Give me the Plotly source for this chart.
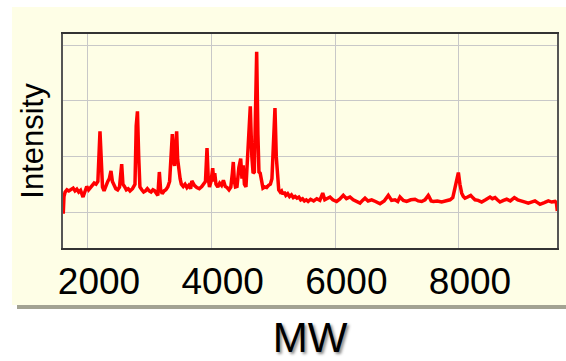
import plotly.graph_objects as go

# Molecular weight (Da) sampled along the spectrum
mw = [1600, 1612, 1630, 1660, 1690, 1720, 1760, 1790, 1820, 1850, 1880, 1920, 1950, 1980,
      2010, 2040, 2070, 2100, 2130, 2160, 2194, 2215, 2235, 2260, 2290, 2320, 2345, 2372,
      2395, 2420, 2450, 2480, 2510, 2545, 2565, 2590, 2620, 2650, 2680, 2720, 2760, 2780,
      2800, 2820, 2840, 2870, 2900, 2930, 2960, 2990, 3020, 3050, 3080, 3110, 3130, 3154,
      3175, 3200, 3230, 3260, 3290, 3320, 3350, 3364, 3385, 3400, 3420, 3434, 3450, 3470,
      3490, 3510, 3540, 3570, 3600, 3630, 3660, 3680, 3720, 3760, 3800, 3840, 3870, 3900,
      3925, 3945, 3965, 3990, 4017, 4035, 4050, 4070, 4100, 4130, 4160, 4190, 4220, 4250,
      4280, 4310, 4335, 4350, 4368, 4385, 4410, 4440, 4470, 4490, 4510, 4530, 4555, 4590,
      4625, 4650, 4670, 4690, 4705, 4728, 4748, 4765, 4785, 4810, 4830, 4860, 4890, 4920,
      4950, 4975, 5000, 5024, 5045, 5065, 5085, 5110, 5130, 5150, 5175, 5200, 5230, 5260,
      5290, 5320, 5350, 5380, 5410, 5440, 5470, 5500, 5530, 5560, 5600, 5650, 5700, 5750,
      5796, 5830, 5870, 5914, 5960, 6021, 6070, 6129, 6180, 6237, 6290, 6340, 6399, 6440,
      6480, 6530, 6588, 6650, 6723, 6790, 6857, 6910, 6965, 7010, 7046, 7100, 7154, 7220,
      7289, 7340, 7397, 7450, 7504, 7515, 7550, 7585, 7650, 7720, 7790, 7855, 7900, 7925,
      7960, 7990, 8015, 8044, 8070, 8097, 8140, 8189, 8230, 8259, 8310, 8367, 8430, 8502,
      8540, 8583, 8620, 8663, 8720, 8771, 8830, 8895, 8950, 9014, 9070, 9121, 9180, 9229,
      9270, 9310, 9380, 9445, 9500, 9553, 9575, 9590]

intensity = [-0.03, 0.28, 0.36, 0.40, 0.38, 0.41, 0.43, 0.38, 0.41, 0.36, 0.39, 0.27, 0.38, 0.46,
             0.40, 0.44, 0.48, 0.52, 0.50, 0.55, 1.45, 0.90, 0.45, 0.38, 0.48, 0.55, 0.60, 0.74,
             0.55, 0.50, 0.42, 0.40, 0.45, 0.86, 0.50, 0.46, 0.40, 0.42, 0.38, 0.42, 0.50, 1.55,
             1.81, 1.00, 0.45, 0.40, 0.36, 0.38, 0.42, 0.38, 0.36, 0.40, 0.38, 0.33, 0.30, 0.72,
             0.40, 0.33, 0.38, 0.40, 0.45, 0.55, 1.20, 1.40, 0.90, 0.83, 1.20, 1.45, 0.95, 0.72,
             0.60, 0.50, 0.46, 0.50, 0.44, 0.48, 0.42, 0.56, 0.48, 0.44, 0.42, 0.46, 0.50, 0.55,
             1.15, 0.60, 0.45, 0.55, 0.79, 0.55, 0.70, 0.50, 0.45, 0.52, 0.48, 0.57, 0.46, 0.44,
             0.40, 0.45, 0.70, 0.90, 0.55, 0.45, 0.46, 0.80, 0.96, 0.60, 0.84, 0.50, 0.45, 1.10,
             1.90, 1.00, 0.70, 0.72, 1.50, 2.88, 1.40, 0.72, 0.70, 0.55, 0.43, 0.45, 0.44, 0.48,
             0.50, 0.60, 1.40, 1.87, 1.00, 0.55, 0.40, 0.36, 0.38, 0.32, 0.36, 0.30, 0.33, 0.28,
             0.31, 0.26, 0.28, 0.25, 0.27, 0.22, 0.24, 0.20, 0.22, 0.19, 0.23, 0.20, 0.24, 0.21,
             0.34, 0.22, 0.24, 0.27, 0.22, 0.19, 0.23, 0.30, 0.24, 0.27, 0.22, 0.20, 0.16, 0.21,
             0.25, 0.20, 0.22, 0.19, 0.15, 0.20, 0.30, 0.21, 0.22, 0.19, 0.27, 0.21, 0.19, 0.22,
             0.23, 0.20, 0.19, 0.22, 0.30, 0.28, 0.20, 0.19, 0.20, 0.18, 0.20, 0.22, 0.26, 0.40,
             0.60, 0.71, 0.50, 0.34, 0.28, 0.25, 0.27, 0.30, 0.25, 0.22, 0.21, 0.18, 0.22, 0.27,
             0.24, 0.26, 0.22, 0.18, 0.21, 0.23, 0.20, 0.26, 0.22, 0.19, 0.18, 0.16, 0.19, 0.20,
             0.17, 0.14, 0.17, 0.20, 0.18, 0.19, 0.17, 0.02]

x_ticks = [2000, 4000, 6000, 8000]
x_tick_labels = ["2000", "4000", "6000", "8000"]
y_grid = [0, 1, 2, 3]

CREAM = "#FEFEE6"

fig = go.Figure()
fig.add_trace(go.Scatter(
    x=mw, y=intensity, mode="lines",
    line=dict(color="#FF0000", width=3.5),
    hoverinfo="skip", showlegend=False,
))

# panel shadow and panel background (slide-like frame)
fig.add_shape(type="rect", xref="paper", yref="paper",
              x0=(17 - 63) / 494, x1=(570 - 63) / 494,
              y0=(248 - 309) / 214, y1=(248 - 12) / 214,
              fillcolor="#A3A393", line=dict(width=0), layer="below")
fig.add_shape(type="rect", xref="paper", yref="paper",
              x0=(12 - 63) / 494, x1=(570 - 63) / 494,
              y0=(248 - 305) / 214, y1=(248 - 7) / 214,
              fillcolor=CREAM, line=dict(width=0), layer="below")

fig.update_layout(
    width=566, height=361,
    margin=dict(l=63, r=9, t=34, b=113),
    paper_bgcolor="white",
    plot_bgcolor=CREAM,
    font=dict(family="Liberation Sans", color="black"),
)

fig.update_xaxes(
    range=[1596, 9585], automargin=False,
    tickvals=x_ticks, ticktext=x_tick_labels,
    tickfont=dict(family="Liberation Sans", size=37, color="black"),
    ticks="", ticklen=0, ticklabelstandoff=0, ticklabelshift=11,
    showgrid=True, gridcolor="#C8C8C8", gridwidth=1,
    showline=True, linecolor="#333333", linewidth=1.5, mirror=True,
    zeroline=False,
    title=dict(text="MW", standoff=50,
               font=dict(family="Liberation Sans", size=42, color="black",
                         shadow="2px 2px 3px #888888")),
)
fig.update_yaxes(
    range=[-0.646, 3.2], automargin=False,
    tickvals=y_grid, showticklabels=False, ticks="",
    showgrid=True, gridcolor="#C8C8C8", gridwidth=1,
    showline=True, linecolor="#555555", linewidth=1.5, mirror=True,
    zeroline=False,
    title=dict(text="Intensity", standoff=8,
               font=dict(family="Liberation Sans", size=31, color="black")),
)

fig.write_html("out.html")
